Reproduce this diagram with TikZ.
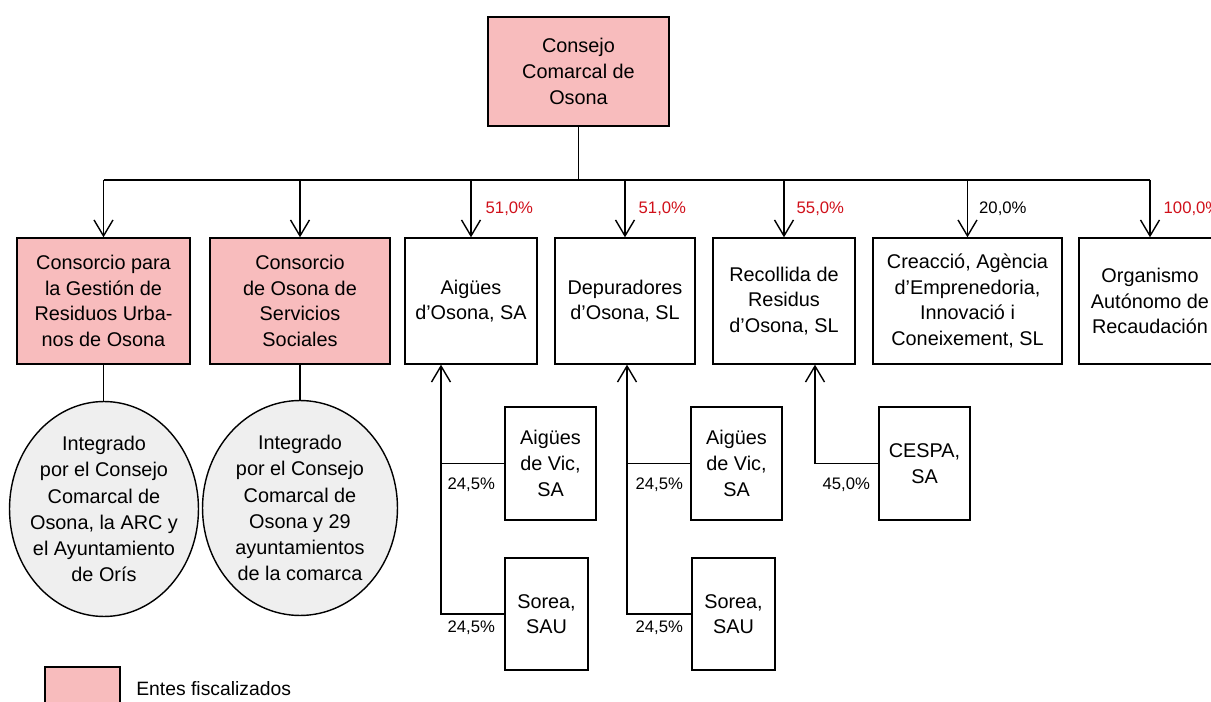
\documentclass[tikz,border=0pt]{standalone}
\usepackage{fontspec}
\setmainfont{Liberation Sans}
\usetikzlibrary{calc,shapes.geometric,arrows.meta}
\definecolor{fiscpink}{HTML}{F8BCBD}
\definecolor{integgray}{HTML}{EFEFEF}
\definecolor{pctred}{HTML}{D0101A}

\begin{document}
\begin{tikzpicture}[x=0.02cm,y=-0.02cm,
  ent/.style={draw=black,line width=0.8pt,align=center,inner sep=0pt,
    font=\fontsize{11.3}{14.6}\selectfont},
  fisc/.style={ent,fill=fiscpink},
  integ/.style={draw=black,line width=0.8pt,ellipse,inner sep=0pt,fill=integgray,
    minimum width=3.78cm,minimum height=4.3cm},
  integtxt/.style={align=center,inner sep=0pt,font=\fontsize{11.3}{14.9}\selectfont},
  pct/.style={inner sep=0pt,font=\fontsize{9.5}{11}\selectfont},
  con/.style={line width=0.8pt},
  arr/.style={con,-{Straight Barb[length=0.32cm,width=0.38cm]}}]
 \clip (0,0) rectangle (1211,702);

 \node[fisc,minimum width=3.62cm,minimum height=2.18cm] (consell) at (578.5,71.5) {Consejo\\Comarcal de\\Osona};

 \node[fisc,minimum width=3.46cm,minimum height=2.52cm] (cgru) at (103.5,301) {Consorcio para\\la Gestión de\\Residuos Urba-\\nos de Osona};
 \node[fisc,minimum width=3.6cm,minimum height=2.52cm] (csoc) at (300,301) {Consorcio\\de Osona de\\Servicios\\Sociales};
 \node[ent,minimum width=2.64cm,minimum height=2.52cm] (aosona) at (471,301) {Aigües\\d’Osona, SA};
 \node[ent,minimum width=2.8cm,minimum height=2.52cm] (dosona) at (625,301) {Depuradores\\d’Osona, SL};
 \node[ent,minimum width=2.84cm,minimum height=2.52cm] (rosona) at (784,301) {Recollida de\\Residus\\d’Osona, SL};
 \node[ent,minimum width=3.78cm,minimum height=2.52cm] (creac) at (967.5,301) {Creacció, Agència\\d’Emprenedoria,\\Innovació i\\Coneixement, SL};
 \node[ent,minimum width=2.84cm,minimum height=2.52cm] (oar) at (1150,301) {Organismo\\Autónomo de\\Recaudación};

 \coordinate (bar) at (578.5,180);
 \draw[con] (consell.south) -- (bar);
 \draw[con] (cgru.north |- bar) -- (oar.north |- bar);
 \draw[arr] (cgru.north |- bar) -- (cgru.north);
 \draw[arr] (csoc.north |- bar) -- (csoc.north);
 \draw[arr] (aosona.north |- bar) -- node[pct,right=0.28cm,text=pctred] {51,0\%} (aosona.north);
 \draw[arr] (dosona.north |- bar) -- node[pct,right=0.26cm,text=pctred] {51,0\%} (dosona.north);
 \draw[arr] (rosona.north |- bar) -- node[pct,right=0.24cm,text=pctred] {55,0\%} (rosona.north);
 \draw[arr] (creac.north |- bar) -- node[pct,right=0.22cm] {20,0\%} (creac.north);
 \draw[arr] (oar.north |- bar) -- node[pct,right=0.26cm,text=pctred] {100,0\%} (oar.north);

 \node[integ,label={[integtxt]center:Integrado\\por el Consejo\\Comarcal de\\Osona, la ARC y\\el Ayuntamiento\\de Orís}] (igru) at (104,509) {};
 \node[integ,minimum width=3.9cm,label={[integtxt]center:Integrado\\por el Consejo\\Comarcal de\\Osona y 29\\ayuntamientos\\de la comarca}] (isoc) at (300,508) {};
 \draw[con] (cgru.south) -- (cgru.south |- igru.north);
 \draw[con] (csoc.south) -- (csoc.south |- isoc.north);

 \node[ent,minimum width=1.82cm,minimum height=2.26cm] (vic1) at (550.5,463.5) {Aigües\\de Vic,\\SA};
 \node[ent,minimum width=1.66cm,minimum height=2.24cm] (sorea1) at (546.5,614) {Sorea,\\SAU};
 \node[ent,minimum width=1.82cm,minimum height=2.26cm] (vic2) at (736.5,463.5) {Aigües\\de Vic,\\SA};
 \node[ent,minimum width=1.66cm,minimum height=2.24cm] (sorea2) at (733.5,614) {Sorea,\\SAU};
 \node[ent,minimum width=1.82cm,minimum height=2.26cm] (cespa) at (924.5,463.5) {CESPA,\\SA};

 \coordinate (up1) at ($(aosona.south)+(-30,0)$);
 \coordinate (up2) at ($(dosona.south)+(2,0)$);
 \coordinate (up3) at ($(rosona.south)+(31,0)$);
 \draw[arr] (sorea1.west) -| (up1);
 \draw[con] (vic1.west) -- (vic1.west -| up1);
 \draw[arr] (sorea2.west) -| (up2);
 \draw[con] (vic2.west) -- (vic2.west -| up2);
 \draw[arr] (cespa.west) -| (up3);

 \node[pct,anchor=east] (pv1) at ($(vic1.west)+(-9,21.5)$) {24,5\%};
 \node[pct,anchor=east] (ps1) at ($(sorea1.west)+(-9,14)$) {24,5\%};
 \node[pct,anchor=east] (pv2) at ($(vic2.west)+(-7,21.5)$) {24,5\%};
 \node[pct,anchor=east] (ps2) at ($(sorea2.west)+(-8,14)$) {24,5\%};
 \node[pct,anchor=east] (pce) at ($(cespa.west)+(-8,21.5)$) {45,0\%};

 \node[fisc,minimum width=1.5cm,minimum height=1cm] (ley) at (82.5,692) {};
 \node[inner sep=0pt,anchor=west,font=\fontsize{11}{13}\selectfont] (leytxt) at (136,689) {Entes fiscalizados};
\end{tikzpicture}
\end{document}
